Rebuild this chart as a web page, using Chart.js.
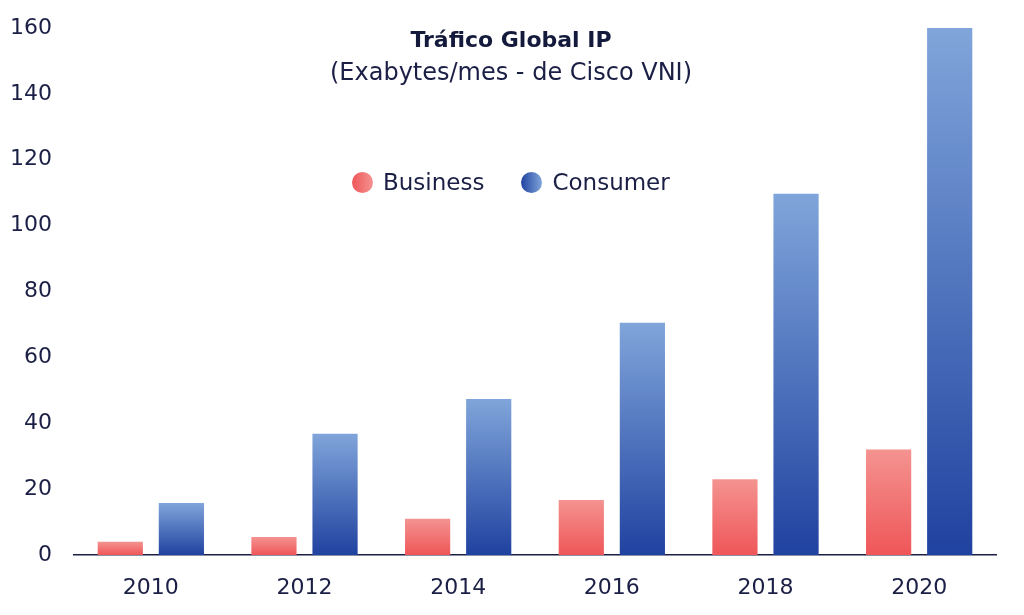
<!DOCTYPE html>
<html>
<head>
<meta charset="utf-8">
<script src="https://cdn.jsdelivr.net/npm/chart.js@4"></script>
<style>
  html, body { margin: 0; padding: 0; background: #fff; }
  #wrap { position: relative; width: 1024px; height: 615px; font-family: "DejaVu Sans", sans-serif; color: #1b1f45; }
  #chart { position: absolute; left: 0; top: 0; }
  .title { position: absolute; left: 0; width: 1022px; text-align: center; }
  #t1 { top: 27px; font-size: 22px; font-weight: 700; color: #141a3c; }
  #t2 { top: 58px; font-size: 24px; font-weight: 400; }
  #legend { position: absolute; top: 169px; left: 352px; font-size: 23px; display: flex; align-items: center; white-space: nowrap; }
  .dot { display: inline-block; width: 21px; height: 21px; border-radius: 50%; margin-right: 10px; }
  .item { display: flex; align-items: center; margin-right: 37px; }
</style>
</head>
<body>
<div id="wrap">
  <canvas id="chart" width="1024" height="615"></canvas>
  <div class="title" id="t1">Tráfico Global IP</div>
  <div class="title" id="t2">(Exabytes/mes - de Cisco VNI)</div>
  <div id="legend"></div>
</div>
<script>
// Chart data
const years = ['2010', '2012', '2014', '2016', '2018', '2020'];
const business = [4, 5.5, 11, 16.7, 23, 32];
const consumer = [15.8, 36.8, 47.4, 70.5, 109.7, 160];
const seriesNames = ['Business', 'Consumer'];

// Colors: light at the top of each bar, strong at the base
const businessColors = ['#f49390', '#ef5659'];
const consumerColors = ['#80a5da', '#2042a0'];

// Function to build a vertical gradient for each bar
function barGradient(colors) {
    return (context) => {
        const chart = context.chart;
        if (!chart.chartArea || context.type !== 'data') {
            return colors[1];
        }
        const yScale = chart.scales.y;
        const top = yScale.getPixelForValue(context.raw);
        const base = yScale.getPixelForValue(0);
        if (!isFinite(top) || top === base) {
            return colors[1];
        }
        const g = chart.ctx.createLinearGradient(0, top, 0, base);
        g.addColorStop(0, colors[0]);
        g.addColorStop(1, colors[1]);
        return g;
    };
}

// Legend drawn as html next to the title
const legendBox = document.getElementById('legend');
[businessColors, consumerColors].forEach((colors, i) => {
    const item = document.createElement('div');
    item.className = 'item';
    const dot = document.createElement('span');
    dot.className = 'dot';
    dot.style.background = `linear-gradient(90deg, ${colors[1]}, ${colors[0]})`;
    item.appendChild(dot);
    item.appendChild(document.createTextNode(seriesNames[i]));
    legendBox.appendChild(item);
});

const ctx = document.getElementById('chart').getContext('2d');
const trafficChart = new Chart(ctx, {
    type: 'bar',
    data: {
        labels: years,
        datasets: [
            {
                label: seriesNames[0],
                data: business,
                backgroundColor: barGradient(businessColors)
            },
            {
                label: seriesNames[1],
                data: consumer,
                backgroundColor: barGradient(consumerColors)
            }
        ]
    },
    options: {
        responsive: false,
        animation: false,
        layout: {
            padding: { top: 28, right: 28, bottom: 0, left: 0 }
        },
        datasets: {
            bar: {
                categoryPercentage: 0.795,
                barPercentage: 0.74
            }
        },
        scales: {
            x: {
                grid: { display: false, drawTicks: false },
                border: { display: true, color: '#1b1f45', width: 1.5 },
                ticks: {
                    color: '#1b1f45',
                    padding: 20,
                    font: { family: 'DejaVu Sans', size: 22 }
                },
                afterFit: (scale) => { scale.height = 60; }
            },
            y: {
                min: 0,
                max: 160,
                grid: { display: false, drawTicks: false },
                border: { display: false },
                ticks: {
                    stepSize: 20,
                    color: '#1b1f45',
                    padding: 22,
                    font: { family: 'DejaVu Sans', size: 22 }
                },
                afterFit: (scale) => {
                    scale.width = 74;
                    scale.paddingTop = 0;
                    scale.paddingBottom = 0;
                }
            }
        },
        plugins: {
            legend: { display: false },
            title: { display: false },
            tooltip: { enabled: false }
        }
    }
});
</script>
</body>
</html>
